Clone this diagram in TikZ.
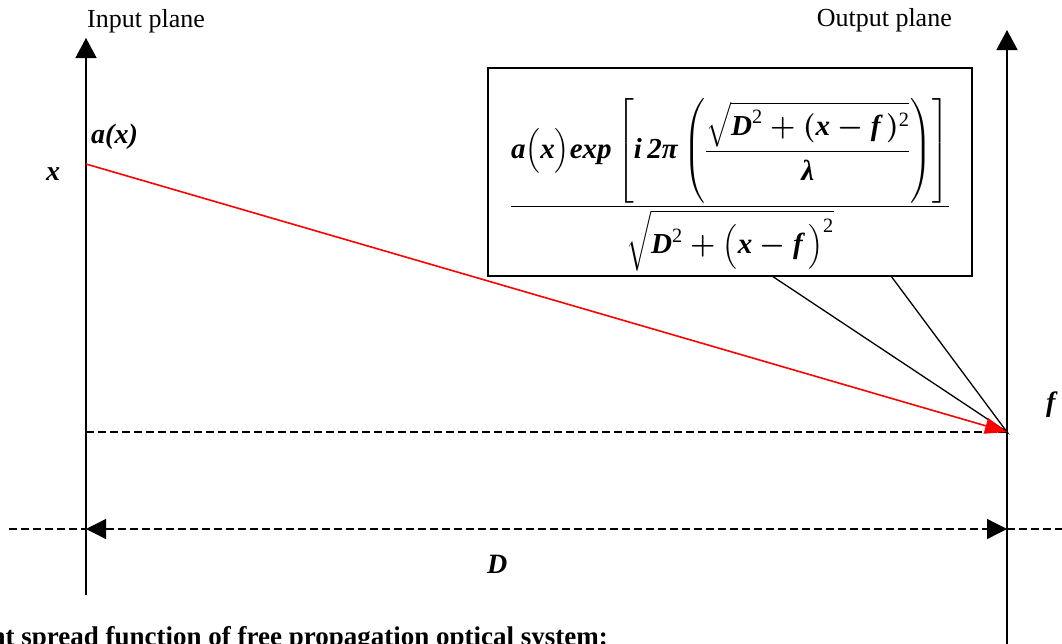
\RequirePackage{fix-cm}
\documentclass[tikz,border=0pt]{standalone}
\usepackage{amsmath}
\usepackage{fontspec}
\setmainfont{Liberation Serif}
\usetikzlibrary{arrows.meta}
\newcommand\bi[1]{\text{\bfseries\itshape #1}}
\newcommand\sqtwo{^{\textnormal{2}}}
\begin{document}
\begin{tikzpicture}[x=1pt,y=-1pt,
  axis/.style={line width=1.6pt},
  dashline/.style={line width=1.3pt,dash pattern=on 8pt off 4pt},
  lab/.style={inner sep=0pt,font=\fontsize{28}{32}\selectfont\bfseries\itshape},
  title/.style={inner sep=0pt,font=\fontsize{26}{30}\selectfont},
  ray/.style={red,line width=1.6pt,-{Triangle[length=22pt,width=16pt]}},
  callout/.style={draw,line width=1.8pt,fill=white,minimum width=484pt,minimum height=208pt,inner sep=0pt}]
\useasboundingbox (0,0) rectangle (1062,643);
\clip (0,0) rectangle (1062,643);
% coordinates
\coordinate (inTop) at (86,38);
\coordinate (inBot) at (86,595);
\coordinate (outTop) at (1007,30);
\coordinate (outBot) at (1007,650);
\coordinate (src) at (86,164);
\coordinate (fL) at (86,432);
\coordinate (fpt) at (1007,432);
\coordinate (dFarL) at (9,529);
\coordinate (dL) at (86,529);
\coordinate (dR) at (1007,529);
\coordinate (dFarR) at (1070,529);
% axes
\draw[axis,-{Triangle[length=20pt,width=21pt]}] (inBot) -- (inTop);
\draw[axis,-{Triangle[length=20pt,width=21pt]}] (outBot) -- (outTop);
% dashed lines
\draw[dashline] (fL) -- (fpt);
\draw[dashline] (dFarL) -- (dL);
\draw[dashline] (dR) -- (dFarR);
\draw[dashline,{Triangle[length=20pt,width=20pt]}-{Triangle[length=20pt,width=20pt]}] (dL) -- (dR);
% callout box
\node[callout] (box) at (730,172) {};
\node[inner sep=0pt] (formula) at (730,185) {\fontsize{29}{35}\selectfont{\boldmath$\displaystyle
\frac{\displaystyle\bi{a}\bigl(\bi{x}\bigr)\bi{exp}\left[\bi{i}\,\bi{2π}\left(\dfrac{\sqrt{\bi{D}\sqtwo+(\bi{x}-\bi{f}\,)\sqtwo}}{\bi{λ}}\right)\right]}{\displaystyle\sqrt{\bi{D}\sqtwo+\bigl(\bi{x}-\bi{f}\,\bigr)\sqtwo}}$}};
\coordinate (tailA) at (772,276);
\coordinate (tailB) at (891,276);
\fill[white] ([yshift=-1.5pt]tailA) -- (fpt) -- ([yshift=-1.5pt]tailB) -- cycle;
\draw[line width=1.3pt] (tailA) -- (fpt) -- (tailB);
% ray
\draw[ray] (src) -- (fpt);
% labels
\node[title,anchor=base west] (inlab) at (87,27) {Input plane};
\node[title,anchor=base east] (outlab) at (952,26) {Output plane};
\node[lab,anchor=base west] (xlab) at (46,180) {x};
\node[lab,anchor=base west] (alab) at (91,143) {a(x)};
\node[lab,anchor=base west] (flab) at (1046,411) {f};
\node[lab,anchor=base west] (Dlab) at (487,573) {D};
\node[inner sep=0pt,font=\fontsize{27}{31}\selectfont\bfseries,anchor=base east] (caption) at (608,645) {Point spread function of free propagation optical system:};
\end{tikzpicture}
\end{document}
